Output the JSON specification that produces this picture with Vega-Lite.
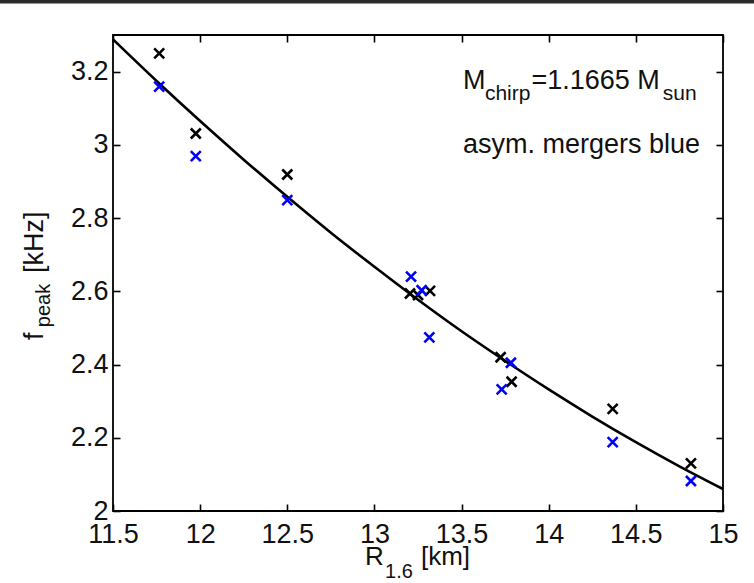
{
  "$schema": "https://vega.github.io/schema/vega-lite/v6.json",
  "width": 610,
  "height": 476,
  "autosize": {"type": "none"},
  "padding": {"left": 113, "top": 35, "right": 31, "bottom": 72},
  "background": "white",
  "config": {
    "view": {"stroke": "#000", "strokeWidth": 1.8},
    "font": "Liberation Sans",
    "axis": {
      "domain": false,
      "grid": false,
      "tickColor": "#000",
      "tickWidth": 1.6,
      "tickSize": -7,
      "labelFont": "Liberation Sans",
      "labelFontSize": 27,
      "labelColor": "#111",
      "labelFlush": false,
      "labelOverlap": false,
      "format": "~g",
      "title": null
    },
    "text": {"font": "Liberation Sans", "color": "#111", "align": "left", "baseline": "alphabetic"}
  },
  "datasets": {
    "mergers": [
      {"R": 11.765, "fpeak": 3.250, "kind": "symmetric"},
      {"R": 11.975, "fpeak": 3.031, "kind": "symmetric"},
      {"R": 12.500, "fpeak": 2.919, "kind": "symmetric"},
      {"R": 13.204, "fpeak": 2.594, "kind": "symmetric"},
      {"R": 13.250, "fpeak": 2.590, "kind": "symmetric"},
      {"R": 13.319, "fpeak": 2.601, "kind": "symmetric"},
      {"R": 13.724, "fpeak": 2.420, "kind": "symmetric"},
      {"R": 13.787, "fpeak": 2.353, "kind": "symmetric"},
      {"R": 14.367, "fpeak": 2.279, "kind": "symmetric"},
      {"R": 14.816, "fpeak": 2.130, "kind": "symmetric"},
      {"R": 11.765, "fpeak": 3.159, "kind": "asymmetric"},
      {"R": 11.975, "fpeak": 2.969, "kind": "asymmetric"},
      {"R": 12.500, "fpeak": 2.849, "kind": "asymmetric"},
      {"R": 13.210, "fpeak": 2.640, "kind": "asymmetric"},
      {"R": 13.271, "fpeak": 2.603, "kind": "asymmetric"},
      {"R": 13.315, "fpeak": 2.474, "kind": "asymmetric"},
      {"R": 13.783, "fpeak": 2.405, "kind": "asymmetric"},
      {"R": 13.730, "fpeak": 2.332, "kind": "asymmetric"},
      {"R": 14.367, "fpeak": 2.188, "kind": "asymmetric"},
      {"R": 14.816, "fpeak": 2.082, "kind": "asymmetric"}
    ],
    "fit": [
      {"R": 11.50, "fpeak": 3.288},
      {"R": 11.75, "fpeak": 3.1745},
      {"R": 12.00, "fpeak": 3.065},
      {"R": 12.25, "fpeak": 2.9595},
      {"R": 12.50, "fpeak": 2.858},
      {"R": 12.75, "fpeak": 2.760},
      {"R": 13.00, "fpeak": 2.667},
      {"R": 13.25, "fpeak": 2.577},
      {"R": 13.50, "fpeak": 2.491},
      {"R": 13.75, "fpeak": 2.410},
      {"R": 14.00, "fpeak": 2.332},
      {"R": 14.25, "fpeak": 2.258},
      {"R": 14.50, "fpeak": 2.188},
      {"R": 14.75, "fpeak": 2.122},
      {"R": 15.00, "fpeak": 2.060}
    ]
  },
  "resolve": {"axis": {"x": "independent", "y": "independent"}},
  "layer": [
    {
      "data": {"name": "fit"},
      "mark": {"type": "line", "color": "#000", "strokeWidth": 2.6, "interpolate": "monotone"},
      "encoding": {
        "x": {
          "field": "R", "type": "quantitative",
          "scale": {"domain": [11.5, 15], "nice": false, "zero": false},
          "axis": {"orient": "bottom", "values": [11.5, 12, 12.5, 13, 13.5, 14, 14.5, 15], "labelPadding": 17}
        },
        "y": {
          "field": "fpeak", "type": "quantitative",
          "scale": {"domain": [2, 3.3], "nice": false, "zero": false},
          "axis": {"orient": "left", "values": [2, 2.2, 2.4, 2.6, 2.8, 3, 3.2], "labelPadding": 12}
        }
      }
    },
    {
      "data": {"name": "mergers"},
      "mark": {"type": "point", "shape": "M-1,-1L1,1M-1,1L1,-1", "filled": false, "size": 100, "strokeWidth": 2.6, "opacity": 1},
      "encoding": {
        "x": {"field": "R", "type": "quantitative", "axis": {"orient": "top", "values": [11.5, 12, 12.5, 13, 13.5, 14, 14.5, 15], "labels": false}},
        "y": {"field": "fpeak", "type": "quantitative", "axis": {"orient": "right", "values": [2, 2.2, 2.4, 2.6, 2.8, 3, 3.2], "labels": false}},
        "color": {
          "field": "kind", "type": "nominal",
          "scale": {"domain": ["symmetric", "asymmetric"], "range": ["#000000", "#0000ff"]},
          "legend": null
        },
        "order": {"field": "kind", "sort": "descending"}
      }
    },
    {
      "data": {"values": [{}]},
      "mark": {"type": "rule", "color": "#2a2a2a", "strokeWidth": 4},
      "encoding": {
        "x": {"datum": 10.85, "axis": null}, "x2": {"datum": 15.18},
        "y": {"datum": 3.3915, "axis": null}
      }
    },
    {
      "data": {"values": [{}]},
      "mark": {"type": "text", "text": "M", "fontSize": 27},
      "encoding": {"x": {"datum": 13.508, "axis": null}, "y": {"datum": 3.1516, "axis": null}}
    },
    {
      "data": {"values": [{}]},
      "mark": {"type": "text", "text": "chirp", "fontSize": 21},
      "encoding": {"x": {"datum": 13.634, "axis": null}, "y": {"datum": 3.1223, "axis": null}}
    },
    {
      "data": {"values": [{}]},
      "mark": {"type": "text", "text": "=1.1665 M", "fontSize": 27},
      "encoding": {"x": {"datum": 13.901, "axis": null}, "y": {"datum": 3.1516, "axis": null}}
    },
    {
      "data": {"values": [{}]},
      "mark": {"type": "text", "text": "sun", "fontSize": 21},
      "encoding": {"x": {"datum": 14.655, "axis": null}, "y": {"datum": 3.1223, "axis": null}}
    },
    {
      "data": {"values": [{}]},
      "mark": {"type": "text", "text": "asym. mergers blue", "fontSize": 27},
      "encoding": {"x": {"datum": 13.508, "axis": null}, "y": {"datum": 2.978, "axis": null}}
    },
    {
      "data": {"values": [{}]},
      "mark": {"type": "text", "text": "R", "fontSize": 26},
      "encoding": {"x": {"datum": 12.946, "axis": null}, "y": {"datum": 1.853, "axis": null}}
    },
    {
      "data": {"values": [{}]},
      "mark": {"type": "text", "text": "1.6", "fontSize": 20},
      "encoding": {"x": {"datum": 13.061, "axis": null}, "y": {"datum": 1.818, "axis": null}}
    },
    {
      "data": {"values": [{}]},
      "mark": {"type": "text", "text": "[km]", "fontSize": 26},
      "encoding": {"x": {"datum": 13.267, "axis": null}, "y": {"datum": 1.853, "axis": null}}
    },
    {
      "data": {"values": [{}]},
      "mark": {"type": "text", "text": "f", "fontSize": 27, "angle": 270},
      "encoding": {"x": {"datum": 11.098, "axis": null}, "y": {"datum": 2.467, "axis": null}}
    },
    {
      "data": {"values": [{}]},
      "mark": {"type": "text", "text": "peak", "fontSize": 20, "angle": 270},
      "encoding": {"x": {"datum": 11.139, "axis": null}, "y": {"datum": 2.502, "axis": null}}
    },
    {
      "data": {"values": [{}]},
      "mark": {"type": "text", "text": "[kHz]", "fontSize": 27, "angle": 270},
      "encoding": {"x": {"datum": 11.098, "axis": null}, "y": {"datum": 2.650, "axis": null}}
    }
  ]
}
